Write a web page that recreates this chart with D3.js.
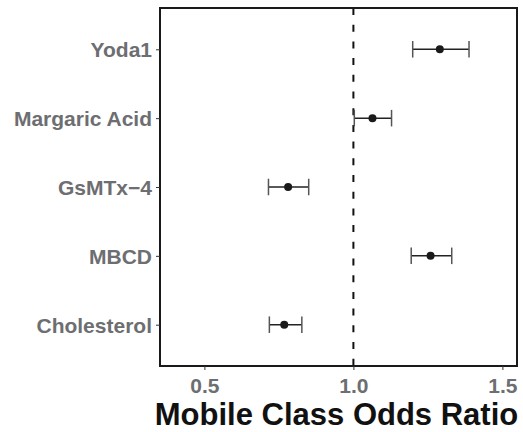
<!DOCTYPE html>
<html>
<head>
<meta charset="utf-8">
<script src="https://cdn.jsdelivr.net/npm/d3@7"></script>
<style>
	body { margin: 0; background: #fff; }
	text { font-family: "Liberation Sans", Arial, Helvetica, sans-serif; font-weight: bold; }
</style>
</head>
<body>
<div id="chart"></div>
<script>
// treatments, top to bottom
var treatments = ["Yoda1", "Margaric Acid", "GsMTx\u22124", "MBCD", "Cholesterol"];
var oddsRatio  = [1.290, 1.064, 0.781, 1.259, 0.768];
var ciLow      = [1.199, 1.003, 0.715, 1.194, 0.718];
var ciHigh     = [1.388, 1.128, 0.850, 1.330, 0.827];
var xTicks     = [0.5, 1.0, 1.5];

var W = 523, H = 432;
var margin = {top: 8, right: 6, bottom: 66, left: 160};

var svg = d3.select("#chart").append("svg")
	.attr("width", W)
	.attr("height", H);

var x = d3.scaleLinear()
	.domain([0.351, 1.549])
	.range([margin.left, W - margin.right]);

var y = d3.scalePoint()
	.domain(treatments)
	.range([margin.top, H - margin.bottom])
	.padding(0.6);

var rows = treatments.map(function(t, i) {
	return {name: t, or: oddsRatio[i], lo: ciLow[i], hi: ciHigh[i]};
});

// reference line at OR = 1
svg.append("line")
	.attr("x1", x(1)).attr("x2", x(1))
	.attr("y1", margin.top).attr("y2", H - margin.bottom)
	.attr("stroke", "#111")
	.attr("stroke-width", 2)
	.attr("stroke-dasharray", "7,9.7");

// error bars
var cap = y.step() * 0.12;
var g = svg.append("g").selectAll("g")
	.data(rows).enter().append("g");

g.append("line")
	.attr("x1", function(d) { return x(d.lo); })
	.attr("x2", function(d) { return x(d.hi); })
	.attr("y1", function(d) { return y(d.name); })
	.attr("y2", function(d) { return y(d.name); })
	.attr("stroke", "#222").attr("stroke-width", 1.5);

g.selectAll("line.cap")
	.data(function(d) { return [{v: d.lo, n: d.name}, {v: d.hi, n: d.name}]; })
	.enter().append("line")
	.attr("class", "cap")
	.attr("x1", function(d) { return x(d.v); })
	.attr("x2", function(d) { return x(d.v); })
	.attr("y1", function(d) { return y(d.n) - cap; })
	.attr("y2", function(d) { return y(d.n) + cap; })
	.attr("stroke", "#555").attr("stroke-width", 1.5);

g.append("circle")
	.attr("cx", function(d) { return x(d.or); })
	.attr("cy", function(d) { return y(d.name); })
	.attr("r", 4)
	.attr("fill", "#1a1a1a");

// panel border
svg.append("rect")
	.attr("x", margin.left).attr("y", margin.top)
	.attr("width", W - margin.right - margin.left)
	.attr("height", H - margin.bottom - margin.top)
	.attr("fill", "none")
	.attr("stroke", "#1a1a1a")
	.attr("stroke-width", 2);

// axes
var xAxis = svg.append("g")
	.attr("transform", "translate(0," + (H - margin.bottom) + ")")
	.call(d3.axisBottom(x).tickValues(xTicks).tickFormat(d3.format(".1f")).tickSize(4).tickPadding(5));

var yAxis = svg.append("g")
	.attr("transform", "translate(" + margin.left + ",0)")
	.call(d3.axisLeft(y).tickSize(4).tickPadding(4));

svg.selectAll(".domain").remove();
svg.selectAll(".tick line").attr("stroke", "#333").attr("stroke-width", 1);
svg.selectAll(".tick text")
	.attr("fill", "#6d6e71")
	.style("font-size", "21px");
yAxis.selectAll(".tick text").attr("dy", "0.36em");
xAxis.selectAll(".tick text").attr("dy", "0.85em");

// title
svg.append("text")
	.attr("x", 336.5)
	.attr("y", 425)
	.attr("text-anchor", "middle")
	.attr("fill", "#111")
	.style("font-size", "31px")
	.text("Mobile Class Odds Ratio");
</script>
</body>
</html>
